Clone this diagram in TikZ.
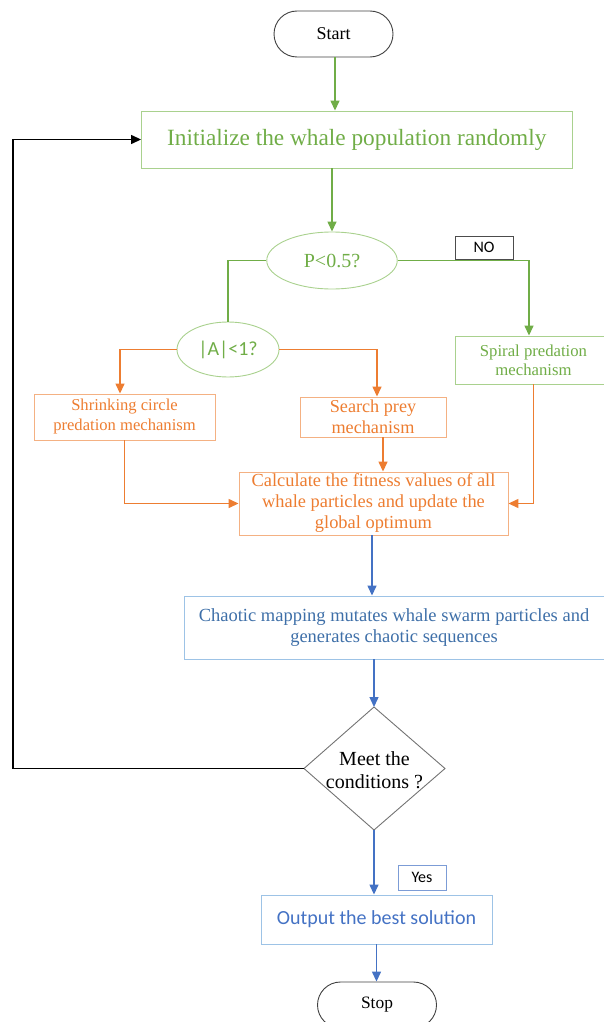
\documentclass[tikz,border=0pt]{standalone}
\usepackage{fontspec}
\setmainfont{Liberation Serif}
\newfontfamily\sansf{Carlito}
\usetikzlibrary{arrows.meta,shapes.geometric}
\definecolor{gr}{HTML}{70AD47}
\definecolor{grb}{HTML}{A9D18E}
\definecolor{orl}{HTML}{ED7D31}
\definecolor{orb}{HTML}{F4B183}
\definecolor{bl}{HTML}{4472C4}
\definecolor{blt}{HTML}{3E6FA8}
\definecolor{blb}{HTML}{9DC3E6}
\newcommand{\fs}[2]{\fontsize{#1}{#2}\selectfont}
\tikzset{
  box/.style={draw, rectangle, line width=0.9pt, inner sep=0pt, align=center},
  term/.style={draw=black!75, rectangle, rounded corners=23pt, line width=0.9pt, minimum width=119pt, minimum height=46pt, inner sep=0pt},
  ell/.style={draw=grb, ellipse, line width=0.9pt, inner sep=0pt, text=gr},
  lab/.style={draw=black!70, rectangle, line width=0.8pt, inner sep=0pt},
  arr/.style={-{Triangle[length=10pt,width=9pt]}},
  gl/.style={draw=gr, line width=1.4pt},
  ol/.style={draw=orl, line width=1.4pt},
  bll/.style={draw=bl, line width=1.4pt},
  kl/.style={draw=black, line width=1.4pt},
}
\begin{document}
\begin{tikzpicture}[x=1pt,y=-1pt]
\useasboundingbox (0,0) rectangle (603,1022);
\node[term, font=\fs{18}{21}] (start) at (333.5,34) {Start};
\node[box, draw=grb, text=gr, minimum width=430.5pt, minimum height=57pt, font=\fs{23.3}{26}] (init) at (356.75,139.5) {Initialize the whale population randomly};
\node[ell, minimum width=130.5pt, minimum height=57pt, font=\fs{20}{23}] (P) at (332,260.5) {P<0.5?};
\node[lab, minimum width=58pt, minimum height=23pt, font=\sansf\fs{16}{18}] (no) at (484,247.5) {NO};
\node[box, draw=grb, text=gr, minimum width=157pt, minimum height=48pt, font=\fs{16.7}{19}] (spiral) at (533.5,360) {Spiral predation\\mechanism};
\node[ell, minimum width=102pt, minimum height=55pt, font=\sansf\fs{20}{23}] (A) at (228,349.5) {|A|<1?};
\node[box, draw=orb, text=orl, minimum width=181pt, minimum height=46pt, font=\fs{16.6}{20}] (shrink) at (124.5,417) {Shrinking circle\\predation mechanism};
\node[box, draw=orb, text=orl, minimum width=146pt, minimum height=40pt, font=\fs{18.2}{21}] (search) at (373,417) {Search prey\\mechanism};
\node[box, draw=orb, text=orl, minimum width=269pt, minimum height=63pt, font=\fs{18.4}{21}] (calc) at (373.5,503.5) {Calculate the fitness values of all\\whale particles and update the\\global optimum};
\node[box, draw=blb, text=blt, minimum width=420pt, minimum height=63pt, font=\fs{18.5}{20.5}] (chaos) at (394,627.5) {Chaotic mapping mutates whale swarm particles and\\generates chaotic sequences};
% decision diamond
\coordinate (dn) at (374,707);
\coordinate (ds) at (374,830);
\coordinate (dw) at (304,768.5);
\coordinate (de) at (445,768.5);
\draw[draw=black!55, line width=0.9pt] (dn) -- (de) -- (ds) -- (dw) -- cycle;
\node[align=center, inner sep=0pt, font=\fs{20}{23}] (dia) at (374.5,770) {Meet the\\conditions ?};
\node[lab, draw=bl!70, minimum width=48pt, minimum height=25pt, font=\sansf\fs{16}{18}] (yes) at (422,877.5) {Yes};
\node[box, draw=blb, text=bl, minimum width=231pt, minimum height=49pt, font=\sansf\fs{20}{23}] (out) at (376.5,919.5) {Output the best solution};
\node[term, font=\fs{17.4}{20}] (stop) at (377,1005) {Stop};
\coordinate (loop) at (13,0);
% connectors
\draw[gl,arr] ([xshift=1.5pt]start.south) -- ([xshift=1.5pt]start.south |- init.north);
\draw[gl,arr] (P.north |- init.south) -- (P.north);
\draw[gl] (P.west) -| (A.north);
\draw[gl,arr] (P.east) -| ([xshift=-4.5pt]spiral.north);
\draw[ol,arr] (A.west) -| ([xshift=-4.5pt]shrink.north);
\draw[ol,arr] (A.east) -| ([xshift=4pt]search.north);
\draw[ol,arr] ([xshift=10pt]search.south) -- ([xshift=10pt]search.south |- calc.north);
\draw[ol,arr] (shrink.south) |- (calc.west);
\draw[ol,arr] (spiral.south) |- (calc.east);
\draw[bll,arr] ([xshift=-1.5pt]calc.south) -- ([xshift=-1.5pt]calc.south |- chaos.north);
\draw[bll,arr] (dn |- chaos.south) -- (dn);
\draw[kl,arr] (dw) -| (loop |- init.west) -- (init.west);
\draw[bll,arr] (ds) -- (ds |- out.north);
\draw[bll,arr] (out.south) -- (out.south |- stop.north);
\end{tikzpicture}
\end{document}
